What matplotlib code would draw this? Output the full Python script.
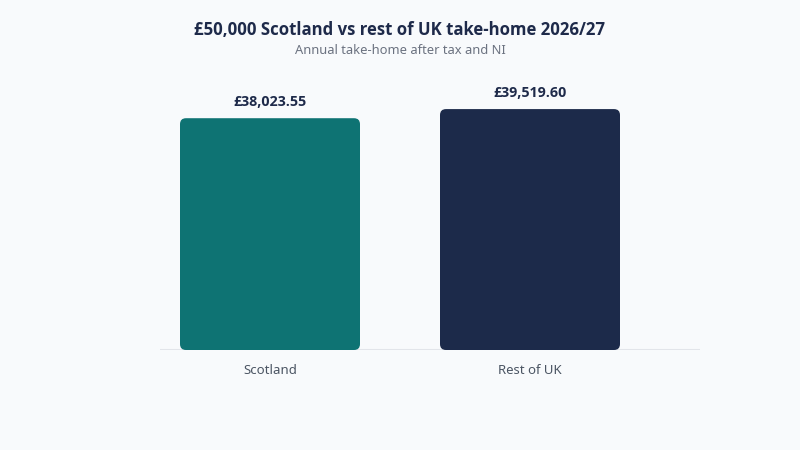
import matplotlib.pyplot as plt
from matplotlib.patches import FancyBboxPatch

# data
categories = ["Scotland", "Rest of UK"]
take_home = [38023.55, 39519.60]
bar_colors = ["#0e7373", "#1c2a4a"]

title = "£50,000 Scotland vs rest of UK take-home 2026/27"
subtitle = "Annual take-home after tax and NI"

plt.rcParams['font.family'] = ['Noto Sans', 'DejaVu Sans']
bold_font = ['Open Sans', 'DejaVu Sans']

W, H = 800, 450
fig = plt.figure(figsize=(8, 4.5), dpi=100)
fig.patch.set_facecolor("#f8fafc")

# axes spans pixel x 160..700, y 85..350
ax = fig.add_axes([160 / W, 1 - 350 / H, 540 / W, 265 / H])
ax.set_facecolor("none")

px_per_x = 260.0
x_lo = -110 / px_per_x
x_hi = 1 + 170 / px_per_x
ymax = 43471
ax.set_xlim(x_lo, x_hi)
ax.set_ylim(0, ymax)

bar_w = 180 / px_per_x
y_per_px = ymax / 265.0
x_per_px = 1 / px_per_x
radius_px = 6

for i, (cat, val, col) in enumerate(zip(categories, take_home, bar_colors)):
    p = FancyBboxPatch((i - bar_w / 2, 0), bar_w, val,
                       boxstyle=f"round,pad=0,rounding_size={radius_px * x_per_px}",
                       mutation_aspect=y_per_px / x_per_px,
                       facecolor=col, edgecolor="none", zorder=3)
    ax.add_patch(p)
    ax.text(i, val + 9 * y_per_px, f"£{val:,.2f}", ha="center", va="bottom",
            fontsize=10.3, fontweight="bold", family=bold_font, color="#1e2a4a")

ax.axhline(0, color="#e2e5ea", lw=1.5, zorder=2)
ax.set_xticks(range(len(categories)))
ax.set_xticklabels(categories, fontsize=9.5, color="#4b5563")
ax.tick_params(axis="x", length=0, pad=10)
ax.set_yticks([])
for s in ax.spines.values():
    s.set_visible(False)

fig.text(0.5, 1 - 30 / H, title, ha="center", va="center",
         fontsize=12.1, fontweight="bold", family=bold_font, color="#1e2a4a")
fig.text(0.5, 1 - 51 / H, subtitle, ha="center", va="center",
         fontsize=9.3, color="#6b7280")

fig.savefig("out.png", dpi=100, facecolor=fig.get_facecolor())
